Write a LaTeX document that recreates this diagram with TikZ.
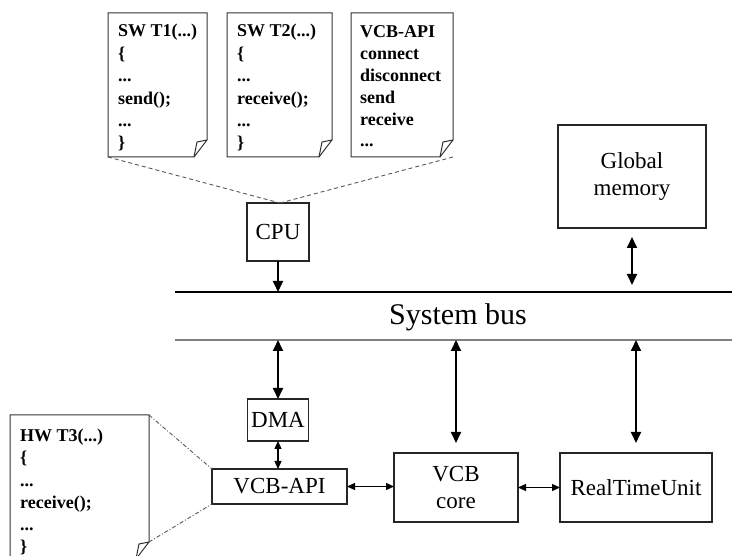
\documentclass[tikz,border=0pt]{standalone}
\usepackage{fontspec}
\setmainfont{Liberation Serif}
\usetikzlibrary{arrows.meta,calc}
\newcommand\threedots{...}
\newcommand\docoutline[1]{%
  \draw[docline] (#1.north west) -- (#1.north east) -- ([yshift=17pt]#1.south east) -- ([xshift=-13pt]#1.south east) -- (#1.south west) -- cycle;
  \draw[docline] ([yshift=17pt]#1.south east) -- ([xshift=-10pt,yshift=15pt]#1.south east) -- ([xshift=-13pt]#1.south east);}
\begin{document}
\begin{tikzpicture}[x=1pt,y=-1pt,
  box/.style={draw=black!85, line width=1.1pt, inner sep=0pt, outer sep=0pt, font=\fontsize{23}{27.5}\selectfont, align=center},
  docbox/.style={inner sep=0pt, outer sep=0pt},
  docline/.style={draw=black!80, line width=1pt},
  doctext/.style={anchor=base west, inner sep=0pt, font=\fontsize{18}{20}\selectfont\bfseries},
  busarrow/.style={line width=1.8pt, -{Triangle[width=10pt,length=11pt]}},
  busdarrow/.style={line width=1.8pt, {Triangle[width=10pt,length=11pt]}-{Triangle[width=10pt,length=11pt]}},
  smallarrow/.style={line width=1.3pt, {Triangle[width=7pt,length=8pt]}-{Triangle[width=7pt,length=8pt]}},
  fan/.style={draw=black!65, line width=0.9pt, dash pattern=on 4pt off 3pt},
  fan2/.style={draw=black!65, line width=0.9pt, dash pattern=on 4pt off 2pt on 1pt off 2pt},
]
\clip (0,0) rectangle (732,556);
\fill[white] (0,0) rectangle (732,556);

% software documents
\node[docbox, minimum width=99pt, minimum height=144pt] (d1) at (157.5,85) {};
\node[docbox, minimum width=105pt, minimum height=144pt] (d2) at (279.5,85) {};
\node[docbox, minimum width=102pt, minimum height=144pt] (d3) at (402,85) {};
\node[docbox, minimum width=139pt, minimum height=144pt] (hw) at (79.5,487) {};
\docoutline{d1}
\docoutline{d2}
\docoutline{d3}
\docoutline{hw}

\foreach \t [count=\i from 0] in {SW T1(\threedots), \{, \threedots, send();, \threedots, \}}
  \node[doctext] (d1t\i) at ($(d1.north west)+(10,24+22.4*\i)$) {\t};
\foreach \t [count=\i from 0] in {SW T2(\threedots), \{, \threedots, receive();, \threedots, \}}
  \node[doctext] (d2t\i) at ($(d2.north west)+(10,24+22.4*\i)$) {\t};
\foreach \t [count=\i from 0] in {VCB-API, connect, disconnect, send, receive, \threedots}
  \node[doctext] (d3t\i) at ($(d3.north west)+(9,25+21.8*\i)$) {\t};
\foreach \t [count=\i from 0] in {HW T3(\threedots), \{, \threedots, receive();, \threedots, \}}
  \node[doctext] (hwt\i) at ($(hw.north west)+(10,27+22*\i)$) {\t};

% boxes
\node[box, minimum width=62pt, minimum height=58pt] (cpu) at (278,232) {CPU};
\node[box, minimum width=148pt, minimum height=103pt] (gm) at (632,176.5) {Global\\memory};
\node[box, minimum width=61pt, minimum height=42pt] (dma) at (278,420) {DMA};
\node[box, minimum width=135pt, minimum height=35pt] (api) at (279.5,486.5) {VCB-API};
\node[box, minimum width=124pt, minimum height=69pt] (core) at (456,487.5) {VCB\\core};
\node[box, minimum width=152pt, minimum height=69pt] (rtu) at (636,487.5) {RealTimeUnit};

% system bus
\coordinate (bt1) at (175,292);
\coordinate (bt2) at (732,292);
\coordinate (bb1) at (175,340);
\coordinate (bb2) at (732,340);
\draw[line width=1.3pt] (bt1) -- (bt2);
\draw[line width=1.3pt, draw=black!50] (bb1) -- (bb2);
\node[inner sep=0pt, font=\fontsize{30}{34}\selectfont] (busl) at (458,317) {System bus};

% fans
\draw[fan] (d1.south west) -- ([xshift=2pt]cpu.north);
\draw[fan] (d3.south east) -- ([xshift=2pt]cpu.north);
\draw[fan2] (hw.north east) -- (api.north west);
\draw[fan2] ([yshift=17pt]hw.south east) -- (api.south west);

% arrows
\draw[busarrow] (cpu.south) -- (cpu.south |- bt1);
\draw[busdarrow, shorten <=9pt, shorten >=7pt] (gm.south) -- (gm.south |- bt1);
\draw[busdarrow] (dma.north |- bb1) -- (dma.north);
\draw[busdarrow, shorten >=10pt] (core.north |- bb1) -- (core.north);
\draw[busdarrow, shorten >=10pt] (rtu.north |- bb1) -- (rtu.north);
\draw[smallarrow] (dma.south) -- (dma.south |- api.north);
\draw[smallarrow] (api.east) -- (api.east -| core.west);
\draw[smallarrow] (core.east) -- (core.east -| rtu.west);
\end{tikzpicture}
\end{document}
